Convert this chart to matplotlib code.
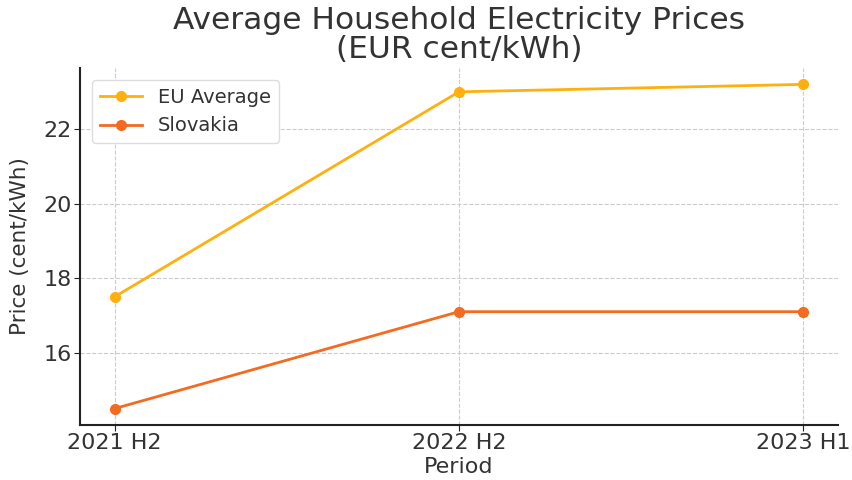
import matplotlib
matplotlib.use("Agg")
import matplotlib.pyplot as plt

periods = ["2021 H2", "2022 H2", "2023 H1"]
eu_average = [17.5, 23.0, 23.2]
slovakia = [14.5, 17.1, 17.1]

text_color = "#333333"
plt.rcParams['font.family'] = ['DejaVu Sans']

fig = plt.figure(figsize=(8.53, 4.8), dpi=100)
ax = fig.add_axes([0.094, 0.115, 0.888, 0.743])

x = list(range(len(periods)))
ax.plot(x, eu_average, marker='o', color='#FFB00F', linewidth=2, markersize=7, label='EU Average')
ax.plot(x, slovakia, marker='o', color='#F26B21', linewidth=2, markersize=7, label='Slovakia')

ax.set_xticks(x)
ax.set_xticklabels(periods)
ax.set_yticks([16, 18, 20, 22])
ax.tick_params(axis='both', labelsize=16, labelcolor=text_color, length=4, color='#222222', pad=2)

ax.set_title("Average Household Electricity Prices\n(EUR cent/kWh)", fontsize=22.5, color=text_color, linespacing=1.0, pad=7)
ax.set_xlabel("Period", fontsize=16, color=text_color, labelpad=3)
ax.set_ylabel("Price (cent/kWh)", fontsize=15.5, color=text_color, labelpad=10)

ax.grid(True, linestyle='--', color='#cccccc', linewidth=0.8)
ax.set_axisbelow(True)
for s in ['top', 'right']:
    ax.spines[s].set_visible(False)
for s in ['left', 'bottom']:
    ax.spines[s].set_color('#222222')
    ax.spines[s].set_linewidth(1.5)

leg = ax.legend(loc='upper left', fontsize=14, frameon=True, framealpha=1, edgecolor='#dddddd',
                borderaxespad=0.6, handlelength=2.2)
for t in leg.get_texts():
    t.set_color(text_color)

fig.savefig("out.png", dpi=100)
